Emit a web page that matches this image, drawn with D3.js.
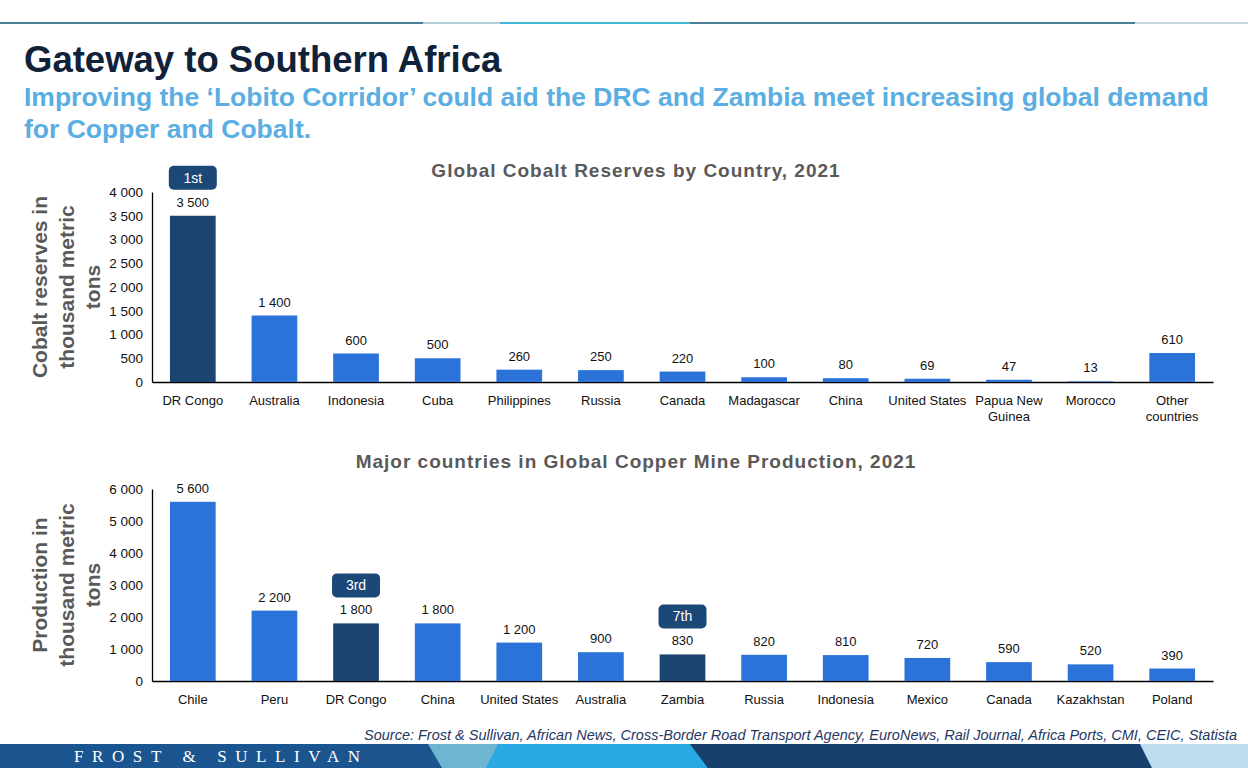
<!DOCTYPE html>
<html><head><meta charset="utf-8">
<script src="https://cdn.jsdelivr.net/npm/d3@7"></script>
<style>body{margin:0;background:#fff}svg{display:block;font-family:"Liberation Sans",Arial,sans-serif}</style>
</head><body>
<svg id="c" width="1248" height="768"></svg>
<script>
const cobaltCountries = ["DR Congo","Australia","Indonesia","Cuba","Philippines","Russia","Canada","Madagascar","China","United States","Papua New|Guinea","Morocco","Other|countries"];
const cobaltValues = [3500,1400,600,500,260,250,220,100,80,69,47,13,610];
const cobaltTicks = [0,500,1000,1500,2000,2500,3000,3500,4000];
const cobaltHighlight = {"DR Congo":"1st"};

const copperCountries = ["Chile","Peru","DR Congo","China","United States","Australia","Zambia","Russia","Indonesia","Mexico","Canada","Kazakhstan","Poland"];
const copperValues = [5600,2200,1800,1800,1200,900,830,820,810,720,590,520,390];
const copperTicks = [0,1000,2000,3000,4000,5000,6000];
const copperHighlight = {"DR Congo":"3rd","Zambia":"7th"};

const svg = d3.select("#c");
const fmt = v => d3.format(",")(v).replace(/,/g," ");

// top decorative line
const topSegs = [[0,423,"#4b7f98"],[423,500,"#b3cfd9"],[500,690,"#41b8d6"],[690,1135,"#4b7f98"],[1135,1248,"#c6d6dd"]];
topSegs.forEach(s=>svg.append("rect").attr("x",s[0]).attr("y",22).attr("width",s[1]-s[0]).attr("height",2).attr("fill",s[2]));

// titles
svg.append("text").attr("x",24).attr("y",72).attr("font-size",36.5).attr("font-weight","bold").attr("fill","#10213a").text("Gateway to Southern Africa");
svg.append("text").attr("x",24).attr("y",106).attr("font-size",26.5).attr("font-weight","bold").attr("fill","#5aaee2").text("Improving the \u2018Lobito Corridor\u2019 could aid the DRC and Zambia meet increasing global demand");
svg.append("text").attr("x",24).attr("y",138).attr("font-size",26.5).attr("font-weight","bold").attr("fill","#5aaee2").text("for Copper and Cobalt.");

function drawChart(o){
  const x = d3.scaleBand().domain(o.cats).range([152,1213]).paddingInner(0.44).paddingOuter(0.22);
  const y = d3.scaleLinear().domain([0,o.max]).range([o.y0,o.y1]);
  const g = svg.append("g");
  g.append("text").attr("x",636).attr("y",o.titleY).attr("text-anchor","middle").attr("font-size",19).attr("letter-spacing",1).attr("font-weight","bold").attr("fill","#595959").text(o.title);
  // y axis title
  const yt = g.append("text").attr("transform",`translate(0,${o.labelY}) rotate(-90)`).attr("text-anchor","middle").attr("font-size",21).attr("font-weight","bold").attr("fill","#595959");
  o.ylabel.forEach((l,i)=>yt.append("tspan").attr("x",0).attr("y",47+i*26.5).text(l));
  // y axis
  const ya = g.append("g").attr("transform","translate(152,0)").call(d3.axisLeft(y).tickValues(o.ticks).tickFormat(fmt).tickSize(0).tickPadding(9));
  ya.select(".domain").attr("stroke","#000").attr("stroke-width",1.3);
  ya.selectAll("text").attr("font-size",13.5).attr("fill","#111").attr("font-family","Liberation Sans, Arial, sans-serif");
  // x axis
  const xa = g.append("g").attr("transform",`translate(0,${o.y0})`).call(d3.axisBottom(x).tickSize(0).tickPadding(12).tickFormat(""));
  xa.select(".domain").attr("stroke","#000").attr("stroke-width",1.3);
  o.cats.forEach(c=>{
    const t = g.append("text").attr("text-anchor","middle").attr("font-size",13).attr("fill","#111");
    c.split("|").forEach((p,i)=>t.append("tspan").attr("x",x(c)+x.bandwidth()/2).attr("y",o.y0+23+i*16).text(p));
  });
  // bars
  g.selectAll(".bar").data(o.cats).join("rect")
    .attr("x",c=>x(c)).attr("width",x.bandwidth())
    .attr("y",(c,i)=>y(o.vals[i])).attr("height",(c,i)=>o.y0-y(o.vals[i]))
    .attr("fill",c=>o.hl[c]?"#1b4470":"#2b73d8");
  g.selectAll(".val").data(o.cats).join("text")
    .attr("x",c=>x(c)+x.bandwidth()/2).attr("y",(c,i)=>y(o.vals[i])-9)
    .attr("text-anchor","middle").attr("font-size",13).attr("fill","#111")
    .text((c,i)=>fmt(o.vals[i]));
  o.cats.forEach((c,i)=>{
    if(!o.hl[c]) return;
    const cx = x(c)+x.bandwidth()/2, cy = y(o.vals[i])-38;
    g.append("rect").attr("x",cx-24).attr("y",cy-12).attr("width",48).attr("height",24).attr("rx",5).attr("fill","#1c4878");
    g.append("text").attr("x",cx).attr("y",cy+5).attr("text-anchor","middle").attr("font-size",14).attr("fill","#fff").text(o.hl[c]);
  });
}

drawChart({cats:cobaltCountries, vals:cobaltValues, ticks:cobaltTicks, max:4000, y0:382, y1:192, hl:cobaltHighlight,
  title:"Global Cobalt Reserves by Country, 2021", titleY:177, labelY:287, ylabel:["Cobalt reserves in","thousand metric","tons"]});
drawChart({cats:copperCountries, vals:copperValues, ticks:copperTicks, max:6000, y0:681, y1:489, hl:copperHighlight,
  title:"Major countries in Global Copper Mine Production, 2021", titleY:468, labelY:585, ylabel:["Production in","thousand metric","tons"]});

// source
svg.append("text").attr("x",1237).attr("y",740).attr("text-anchor","end").attr("font-size",14.5).attr("font-style","italic").attr("fill","#1f3864")
  .text("Source: Frost & Sullivan, African News, Cross-Border Road Transport Agency, EuroNews, Rail Journal, Africa Ports, CMI, CEIC, Statista");

// footer band
const fy = 744, fb = 768;
svg.append("rect").attr("x",0).attr("y",fy).attr("width",1248).attr("height",fb-fy).attr("fill","#1b5590");
const poly = (pts,fill)=>svg.append("polygon").attr("points",pts.map(p=>p.join(",")).join(" ")).attr("fill",fill);
poly([[428,fy],[500,fy],[488,fb],[442,fb]],"#6db5d1");
poly([[498,fy],[690,fy],[708,fb],[486,fb]],"#29a9e1");
poly([[690,fy],[1140,fy],[1152,fb],[708,fb]],"#17406c");
poly([[1140,fy],[1248,fy],[1248,fb],[1152,fb]],"#bfdcef");
svg.append("text").attr("x",74).attr("y",762).attr("font-family","Liberation Serif, serif").attr("font-size",17).attr("letter-spacing",8.6).attr("fill","#fff").text("FROST & SULLIVAN");
</script>
</body></html>
